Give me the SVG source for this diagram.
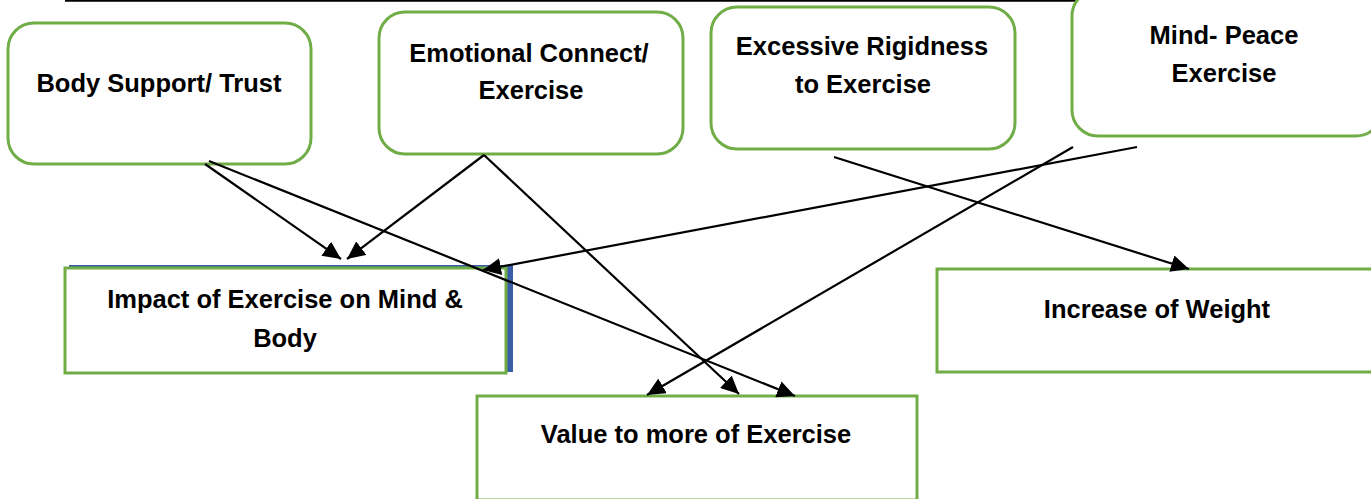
<svg xmlns="http://www.w3.org/2000/svg" width="1371" height="499" viewBox="0 0 1371 499">
<style>
.box{fill:#fff;stroke:#70AD47;stroke-width:3}
.t{font-family:"Liberation Sans",Arial,sans-serif;font-weight:bold;font-size:25.5px;fill:#000;text-anchor:middle}
.c{stroke:#000;stroke-width:2.2;fill:none;marker-end:url(#ah)}
</style>
<defs>
<marker id="ah" markerUnits="userSpaceOnUse" markerWidth="19" markerHeight="17" refX="18" refY="8.5" orient="auto">
<path d="M0,0 L18,8.5 L0,17 z" fill="#000"/>
</marker>
</defs>
<line x1="65" y1="0.8" x2="1371" y2="0.8" stroke="#000" stroke-width="2"/>
<g id="body-support">
<rect class="box" x="8" y="23" width="303" height="141" rx="26"/>
<text class="t" x="159" y="92">Body Support/ Trust</text>
</g>
<g id="emotional">
<rect class="box" x="379" y="12" width="304" height="142" rx="26"/>
<text class="t" x="529" y="62">Emotional Connect/</text>
<text class="t" x="531" y="99">Exercise</text>
</g>
<g id="excessive">
<rect class="box" x="711" y="7" width="304" height="142" rx="26"/>
<text class="t" x="862" y="55">Excessive Rigidness</text>
<text class="t" x="863" y="93">to Exercise</text>
</g>
<g id="mind-peace">
<rect class="box" x="1072" y="-10" width="310" height="146" rx="26"/>
<text class="t" x="1224" y="44">Mind- Peace</text>
<text class="t" x="1224" y="82">Exercise</text>
</g>
<g id="impact">
<rect x="69" y="265" width="444" height="107" fill="#3A5DA8"/>
<rect class="box" x="65" y="268" width="441" height="105"/>
<text class="t" x="285" y="308">Impact of Exercise on Mind &amp;</text>
<text class="t" x="285" y="347">Body</text>
</g>
<g id="increase">
<rect class="box" x="937" y="269" width="440" height="103"/>
<text class="t" x="1157" y="318">Increase of Weight</text>
</g>
<g id="value">
<rect class="box" x="477" y="396" width="440" height="104"/>
<text class="t" x="696" y="443">Value to more of Exercise</text>
</g>
<g id="connectors">
<line class="c" x1="205" y1="164" x2="341" y2="259"/>
<line class="c" x1="209" y1="161" x2="795" y2="396"/>
<line class="c" x1="484" y1="155" x2="347" y2="259"/>
<line class="c" x1="484" y1="155" x2="739" y2="394"/>
<line class="c" x1="834" y1="157" x2="1189" y2="269"/>
<line class="c" x1="1137" y1="147" x2="483" y2="270"/>
<line class="c" x1="1073" y1="147" x2="647" y2="395"/>
</g>
</svg>
